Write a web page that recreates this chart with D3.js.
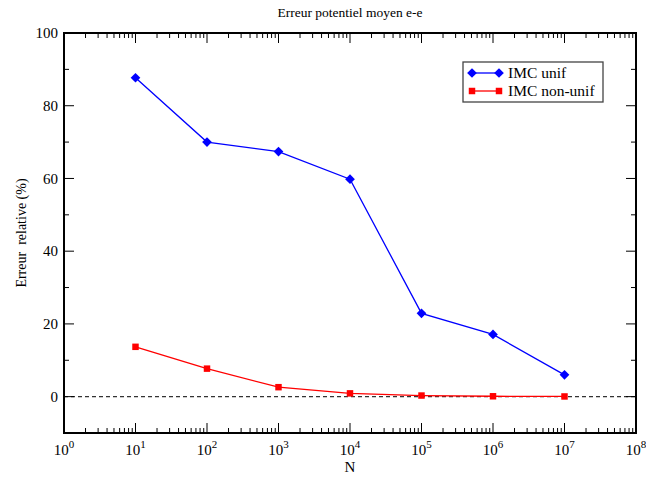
<!DOCTYPE html>
<html>
<head>
<meta charset="utf-8">
<script src="https://cdn.jsdelivr.net/npm/d3@7"></script>
<style>
  body { margin: 0; background: #fff; }
</style>
</head>
<body>
<svg id="chart"></svg>
<script>
/* data */
const exponents = [1, 2, 3, 4, 5, 6, 7];
const unifValues = [87.7, 70.0, 67.4, 59.8, 22.9, 17.1, 6.0];
const nonUnifValues = [13.7, 7.7, 2.6, 0.9, 0.3, 0.1, 0.05];
const seriesNames = ["IMC unif", "IMC non-unif"];
const yTicks = [0, 20, 40, 60, 80, 100];
const xTickExps = [0, 1, 2, 3, 4, 5, 6, 7, 8];

const W = 646, H = 477;
const margin = { top: 33, right: 10, bottom: 44, left: 64 };
const width = W - margin.left - margin.right,
      height = H - margin.top - margin.bottom;

const svg = d3.select("#chart").attr("width", W).attr("height", H)
  .attr("font-family", "'Liberation Serif', 'Times New Roman', Times, serif");
const g = svg.append("g").attr("transform", `translate(${margin.left},${margin.top})`);

const x = d3.scaleLog().domain([1, 1e8]).range([0, width]);
const y = d3.scaleLinear().domain([-10, 100]).range([height, 0]);

/* minor ticks on the log axis */
const minorX = [];
xTickExps.slice(0, -1).forEach(e => {
  for (let k = 2; k <= 9; k++) minorX.push(k * Math.pow(10, e));
});
const minorY = d3.range(-10, 101, 10).filter(v => yTicks.indexOf(v) < 0);

/* zero line */
g.append("line")
  .attr("x1", 0).attr("x2", width)
  .attr("y1", y(0)).attr("y2", y(0))
  .attr("stroke", "#333").attr("stroke-width", 1.2)
  .attr("stroke-dasharray", "4,3");

/* tick marks pointing inward, on all four sides */
const ticks = g.append("g").attr("stroke", "#000").attr("stroke-width", 1);
xTickExps.forEach(e => {
  const px = x(Math.pow(10, e));
  ticks.append("line").attr("x1", px).attr("x2", px).attr("y1", height).attr("y2", height - 10);
  ticks.append("line").attr("x1", px).attr("x2", px).attr("y1", 0).attr("y2", 10);
});
minorX.forEach(v => {
  const px = x(v);
  ticks.append("line").attr("x1", px).attr("x2", px).attr("y1", height).attr("y2", height - 5);
  ticks.append("line").attr("x1", px).attr("x2", px).attr("y1", 0).attr("y2", 5);
});
yTicks.forEach(v => {
  ticks.append("line").attr("x1", 0).attr("x2", 10).attr("y1", y(v)).attr("y2", y(v));
  ticks.append("line").attr("x1", width).attr("x2", width - 10).attr("y1", y(v)).attr("y2", y(v));
});
minorY.forEach(v => {
  ticks.append("line").attr("x1", 0).attr("x2", 5).attr("y1", y(v)).attr("y2", y(v));
  ticks.append("line").attr("x1", width).attr("x2", width - 5).attr("y1", y(v)).attr("y2", y(v));
});

/* frame */
g.append("rect")
  .attr("width", width).attr("height", height)
  .attr("fill", "none").attr("stroke", "#000").attr("stroke-width", 2);

/* y tick labels */
g.append("g").selectAll("text").data(yTicks).join("text")
  .attr("x", -6).attr("y", d => y(d)).attr("dy", "0.35em")
  .attr("text-anchor", "end").attr("font-size", 15)
  .text(d => d);

/* x tick labels as 10^n */
const xl = g.append("g").selectAll("text").data(xTickExps).join("text")
  .attr("x", d => x(Math.pow(10, d))).attr("y", height + 22)
  .attr("text-anchor", "middle").attr("font-size", 15);
xl.append("tspan").text("10");
xl.append("tspan").attr("dy", -7).attr("font-size", 11).text(d => d);

/* axis titles */
svg.append("text")
  .attr("x", margin.left + width / 2).attr("y", 472)
  .attr("text-anchor", "middle").attr("font-size", 15).text("N");
svg.append("text")
  .attr("transform", `translate(26,${margin.top + height / 2}) rotate(-90)`)
  .attr("text-anchor", "middle").attr("font-size", 14)
  .attr("xml:space", "preserve")
  .text("Erreur  relative (%)");
svg.append("text")
  .attr("x", margin.left + width / 2).attr("y", 17)
  .attr("text-anchor", "middle").attr("font-size", 13.5)
  .text("Erreur potentiel moyen e-e");

/* series */
const series = [
  { name: seriesNames[0], values: unifValues, color: "#0000ff", symbol: d3.symbolDiamond2, size: 60 },
  { name: seriesNames[1], values: nonUnifValues, color: "#ff0000", symbol: d3.symbolSquare, size: 42 }
];
const line = d3.line()
  .x((d, i) => x(Math.pow(10, exponents[i])))
  .y(d => y(d));

series.forEach(s => {
  g.append("path").datum(s.values)
    .attr("fill", "none").attr("stroke", s.color).attr("stroke-width", 1.3)
    .attr("d", line);
  g.append("g").selectAll("path").data(s.values).join("path")
    .attr("transform", (d, i) => `translate(${x(Math.pow(10, exponents[i]))},${y(d)})`)
    .attr("d", d3.symbol().type(s.symbol).size(s.size))
    .attr("fill", s.color);
});

/* legend */
const lg = svg.append("g").attr("transform", "translate(463,62)");
lg.append("rect").attr("width", 140).attr("height", 40)
  .attr("fill", "#fff").attr("stroke", "#444").attr("stroke-width", 1.3);
series.forEach((s, i) => {
  const cy = 11 + i * 18;
  lg.append("line").attr("x1", 9).attr("x2", 36).attr("y1", cy).attr("y2", cy)
    .attr("stroke", s.color).attr("stroke-width", 1.3);
  [9, 36].forEach(px => {
    lg.append("path")
      .attr("transform", `translate(${px},${cy})`)
      .attr("d", d3.symbol().type(s.symbol).size(s.size))
      .attr("fill", s.color);
  });
  lg.append("text").attr("x", 45).attr("y", cy).attr("dy", "0.35em")
    .attr("font-size", 15.5).text(s.name);
});
</script>
</body>
</html>
